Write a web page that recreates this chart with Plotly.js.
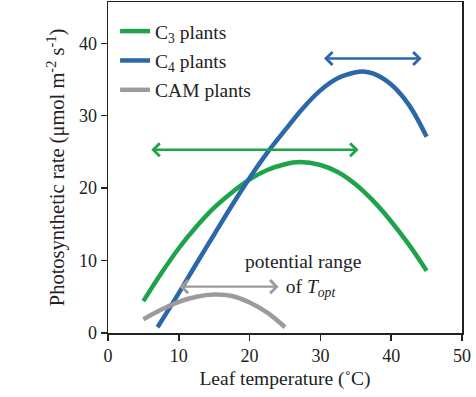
<!DOCTYPE html>
<html>
<head>
<meta charset="utf-8">
<script src="https://cdn.plot.ly/plotly-3.0.1.min.js"></script>
<style>html,body{margin:0;padding:0;background:#fff;}#chart{width:476px;height:397px;}</style>
</head>
<body>
<div id="chart"></div>
<script>
// Leaf temperature (°C) and photosynthetic rate (µmol m-2 s-1)
var c3Temp = [5, 7.5, 10, 12.5, 15, 17.5, 20, 22.5, 25, 27, 30, 32.5, 35, 37.5, 40, 42.5, 45];
var c3Rate = [4.4, 8.2, 11.7, 14.7, 17.3, 19.4, 21.2, 22.5, 23.3, 23.6, 23.2, 22.2, 20.5, 18.2, 15.4, 12.2, 8.6];

var c4Temp = [7, 10, 12.5, 15, 17.5, 20, 22.5, 25, 27.5, 30, 32.5, 35, 36, 37.5, 40, 42.5, 45];
var c4Rate = [0.8, 5.5, 9.6, 13.6, 17.6, 21.4, 24.9, 28.0, 31.0, 33.5, 35.2, 36.0, 36.1, 35.8, 34.3, 31.5, 27.1];

var camTemp = [5, 7.5, 10, 12.5, 15, 17.5, 20, 22.5, 25];
var camRate = [1.9, 3.2, 4.3, 5.0, 5.3, 5.1, 4.2, 2.8, 0.8];

// Topt ranges: [start, end, level]
var c3Range = [5.9, 35.4, 25.3];
var c4Range = [30.3, 44.3, 37.9];
var camRange = [9.9, 24.1, 6.4];

var seriesNames = ['C<sub>3</sub> plants', 'C<sub>4</sub> plants', 'CAM plants'];
var xTicks = [0, 10, 20, 30, 40, 50];
var yTicks = [0, 10, 20, 30, 40];

var green = '#1fa34a', blue = '#2b67aa', gray = '#9b9b9b';
var font = 'Liberation Serif, Times New Roman, serif';
var fs = 19.5;

var traces = [
  {x: c3Temp, y: c3Rate, name: seriesNames[0], legendgroup: 'a', mode: 'lines', line: {color: green, width: 4.5, shape: 'spline'}},
  {x: c4Temp, y: c4Rate, name: seriesNames[1], legendgroup: 'b', mode: 'lines', line: {color: blue, width: 4.5, shape: 'spline'}},
  {x: camTemp, y: camRate, name: seriesNames[2], legendgroup: 'c', mode: 'lines', line: {color: gray, width: 4.5, shape: 'spline'}}
];

function rangeArrow(r, color) {
  return {
    x: r[1], y: r[2], ax: r[0], ay: r[2], xref: 'x', yref: 'y', axref: 'x', ayref: 'y',
    text: '', showarrow: true, arrowhead: 4, startarrowhead: 4, arrowside: 'end+start',
    arrowwidth: 2.4, arrowsize: 1.05, startarrowsize: 1.05, arrowcolor: color
  };
}

var layout = {
  width: 476, height: 397,
  margin: {l: 108, r: 14, t: 2, b: 64},
  paper_bgcolor: '#fff', plot_bgcolor: '#fff',
  font: {family: font, size: fs, color: '#222'},
  showlegend: true,
  legend: {x: 0.02, y: 0.97, xanchor: 'left', yanchor: 'top', traceorder: 'grouped', tracegroupgap: 1,
           bgcolor: 'rgba(0,0,0,0)', font: {family: font, size: fs, color: '#222'}},
  xaxis: {range: [0, 50], tickvals: xTicks, ticks: 'outside', ticklen: 6, tickwidth: 1.5, tickcolor: '#222',
          tickfont: {family: font, size: 18},
          showline: true, linecolor: '#222', linewidth: 1.5, mirror: true, showgrid: false, zeroline: false,
          title: {text: 'Leaf temperature (˚C)', font: {family: font, size: fs}, standoff: 6}},
  yaxis: {range: [0, 45.7], tickvals: yTicks, ticks: 'outside', ticklen: 6, tickwidth: 1.5, tickcolor: '#222',
          tickfont: {family: font, size: 18},
          showline: true, linecolor: '#222', linewidth: 1.5, mirror: true, showgrid: false, zeroline: false,
          title: {text: 'Photosynthetic rate (μmol m<sup>-2</sup> s<sup>-1</sup>)', font: {family: font, size: 20.5}, standoff: 8}},
  annotations: [
    rangeArrow(c3Range, green),
    rangeArrow(c4Range, blue),
    rangeArrow(camRange, gray),
    {x: 27.5, y: 7.9, xref: 'x', yref: 'y', showarrow: false, align: 'center',
     text: 'potential range<br>   of <i>T<sub>opt</sub></i>', font: {family: font, size: fs, color: '#222'}}
  ]
};

Plotly.newPlot('chart', traces, layout, {displayModeBar: false, staticPlot: true});
</script>
</body>
</html>
